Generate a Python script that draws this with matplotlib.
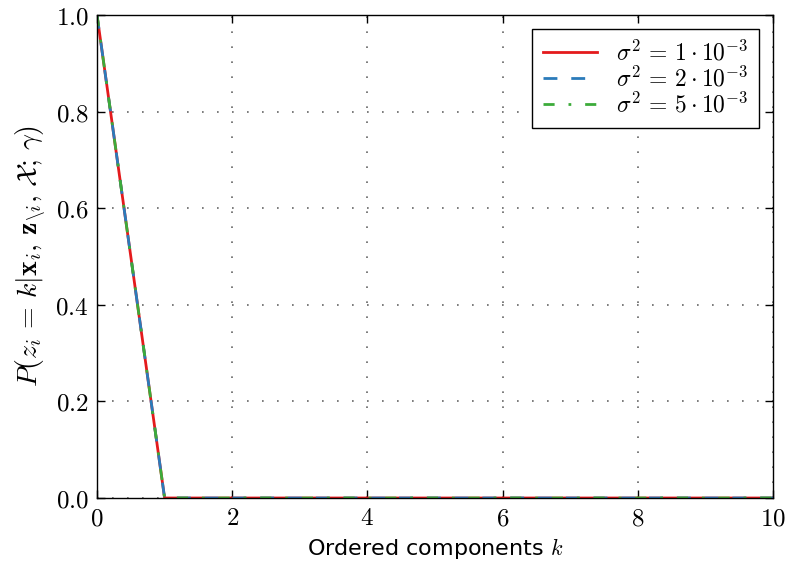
import matplotlib
matplotlib.use("Agg")
import matplotlib.pyplot as plt
import numpy as np

plt.rcParams['mathtext.fontset'] = 'cm'
plt.rcParams['font.family'] = ['DejaVu Sans']

k = list(range(0, 11))
p_1e3 = [1.0, 0, 0, 0, 0, 0, 0, 0, 0, 0, 0]
p_2e3 = [1.0, 0, 0, 0, 0, 0, 0, 0, 0, 0, 0]
p_5e3 = [1.0, 0, 0, 0, 0, 0, 0, 0, 0, 0, 0]
labels = [r'$\sigma^2\,=\,1\cdot10^{-3}$', r'$\sigma^2\,=\,2\cdot10^{-3}$', r'$\sigma^2\,=\,5\cdot10^{-3}$']
xticks = [0, 2, 4, 6, 8, 10]
yticks = [0.0, 0.2, 0.4, 0.6, 0.8, 1.0]

fig = plt.figure(figsize=(7.88, 5.72), dpi=100)
ax = fig.add_axes([97/788, 1-498/572, (773-97)/788, (498-15)/572])

ax.plot(k, p_1e3, color='#e41a1c', lw=2, ls='-', label=labels[0])
ax.plot(k, p_2e3, color='#2b7bba', lw=2, ls=(0, (5, 5)), label=labels[1])
ax.plot(k, p_5e3, color='#3cab3a', lw=2, ls=(0, (4, 5, 1, 5)), label=labels[2])

ax.set_xlim(0, 10)
ax.set_ylim(0, 1)
ax.set_xticks(xticks)
ax.set_yticks(yticks)
ax.set_xticklabels([r'$%d$' % t for t in xticks], fontsize=18)
ax.set_yticklabels([r'$%.1f$' % t for t in yticks], fontsize=18)
ax.tick_params(direction='in', top=True, right=True, length=6, width=1, pad=6)
ax.grid(True, ls=(0, (1, 8)), color='#666666', lw=1.2)
for s in ax.spines.values():
    s.set_linewidth(1)

ax.set_xlabel(r'Ordered components $k$', fontsize=16)
ax.set_ylabel(r'$P(z_i\,=\,k|\mathbf{x}_i,\,\mathbf{z}_{\backslash i},\,\mathcal{X};\,\gamma)$', fontsize=20, labelpad=6)

leg = ax.legend(loc='upper right', fontsize=17, fancybox=False, edgecolor='black',
                framealpha=1, handlelength=2.3, handletextpad=0.8, borderaxespad=0.6,
                labelspacing=0.05, borderpad=0.45)
leg.get_frame().set_linewidth(1)

fig.savefig('out.png', dpi=100)
